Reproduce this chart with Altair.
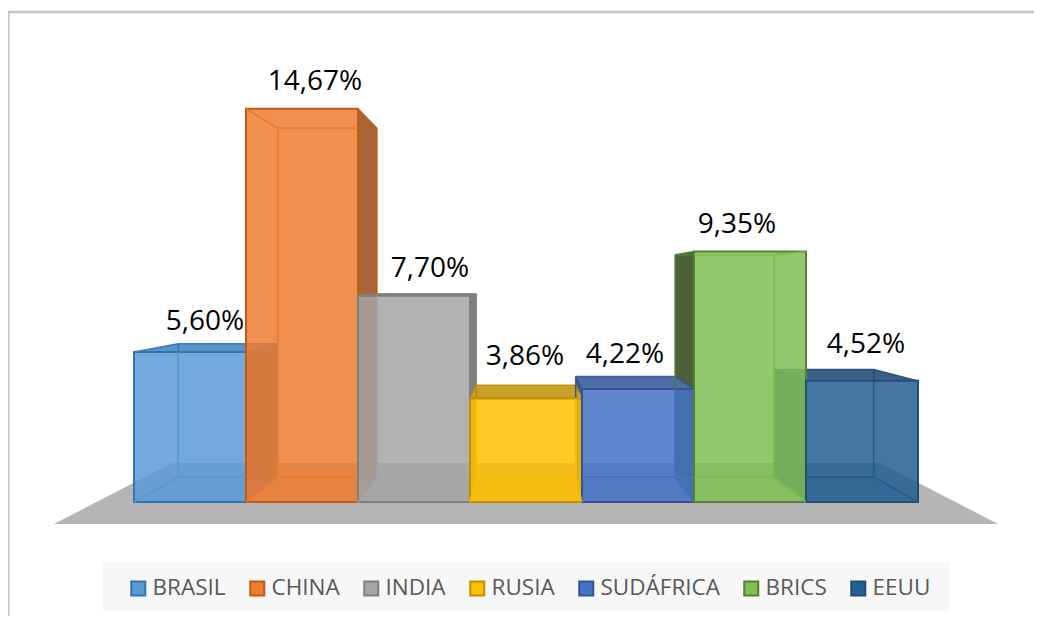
import altair as alt
import pandas as pd

# ---- chart values ----
SERIES = ["BRASIL", "CHINA", "INDIA", "RUSIA", "SUDÁFRICA", "BRICS", "EEUU"]
VALUES = [5.60, 14.67, 7.70, 3.86, 4.22, 9.35, 4.52]
LABELS = ["5,60%", "14,67%", "7,70%", "3,86%", "4,22%", "9,35%", "4,52%"]

# ---- styling ----
FILLS = ["#5b9bd5", "#ed7d31", "#a5a5a5", "#ffc000", "#4472c4", "#80bf55", "#255e91"]
STROKES = ["#2e75b6", "#c55a11", "#7f7f7f", "#bf9000", "#2f5597", "#548235", "#1f4e79"]
DARK_WALL = ["#4f6f95", "#a8653a", "#808080", "#c8a02a", "#3f5a8a", "#4c6138", "#2c4a6a"]
DARK_TOP = ["#5b92c8", "#a8653a", "#808080", "#c8a02a", "#4e6da3", "#4c6138", "#3d5f85"]
LABEL_DX = [15, 13, 16, -1, -13, -13, 4]
LABEL_DY = [30, 27, 27, 42, 34, 26, 36]

W, H = 1026, 608
SLOT = 112.0      # px per bar slot
UNIT = 26.8       # px per percentage point
CX, BASE = 518.0, 494.0  # projection centre x, baseline y, in plot pixels
V0 = 222.0 / UNIT        # height of the vanishing point, in value units
SHRINK = 0.113           # perspective shrink of the rear plane
FLOOR_HALF = 3.835       # half width of the floor, in slots

x_scale = alt.Scale(domain=[-CX / SLOT, (W - CX) / SLOT], nice=False, zero=False)
y_scale = alt.Scale(domain=[(BASE - H) / UNIT, BASE / UNIT], nice=False, zero=False)


def proj(e, v, s):
    return e * s, V0 + (v - V0) * s


def clip(a, b, xmin, xmax, ymin, ymax):
    """Liang-Barsky clipping of segment a-b to a rectangle."""
    t0, t1 = 0.0, 1.0
    dx, dy = b[0] - a[0], b[1] - a[1]
    for p, q in ((-dx, a[0] - xmin), (dx, xmax - a[0]), (-dy, a[1] - ymin), (dy, ymax - a[1])):
        if p == 0:
            if q < 0:
                return None
        else:
            r = q / p
            if p < 0:
                t0 = max(t0, r)
            else:
                t1 = min(t1, r)
    if t0 >= t1:
        return None
    return (a[0] + t0 * dx, a[1] + t0 * dy), (a[0] + t1 * dx, a[1] + t1 * dy)


BACK = 1 - SHRINK
n = len(SERIES)
walls, tops, bottoms, fronts, lines_under, lines_over = [], [], [], [], [], []
for i, (name, val) in enumerate(zip(SERIES, VALUES)):
    le, re = i - n / 2, i + 1 - n / 2
    fl = proj(le, val, 1)
    fr = proj(re, val, 1)
    bl = proj(le, val, BACK)
    br = proj(re, val, BACK)
    fl0 = proj(le, 0, 1)
    bl0 = proj(le, 0, BACK)
    fr0 = proj(re, 0, 1)
    br0 = proj(re, 0, BACK)
    fronts.append(dict(series=name, x=le, x2=re, y=val, y2=0))
    # a wall is shown dark only where it lies outside the front face
    if br[0] > fr[0]:
        walls.append(dict(id=f"w{i}", x=fr[0], y=fr[1], y2=fr0[1], fill=DARK_WALL[i]))
        walls.append(dict(id=f"w{i}", x=br[0], y=br[1], y2=br0[1], fill=DARK_WALL[i]))
    if bl[0] < fl[0]:
        walls.append(dict(id=f"w{i}", x=bl[0], y=bl[1], y2=bl0[1], fill=DARK_WALL[i]))
        walls.append(dict(id=f"w{i}", x=fl[0], y=fl[1], y2=fl0[1], fill=DARK_WALL[i]))
    if bl[1] > fl[1]:
        tops.append(dict(id=f"t{i}", y=bl[1], x=bl[0], x2=br[0], fill=DARK_TOP[i]))
        tops.append(dict(id=f"t{i}", y=fl[1], x=fl[0], x2=fr[0], fill=DARK_TOP[i]))
    bottoms.append(dict(id=f"b{i}", y=bl0[1], x=bl0[0], x2=br0[0], fill=FILLS[i]))
    bottoms.append(dict(id=f"b{i}", y=fl0[1], x=fl0[0], x2=fr0[0], fill=FILLS[i]))
    segments = [
        (bl, br), (bl0, br0), (bl, bl0), (br, br0),
        (fl, bl), (fr, br), (fl0, bl0), (fr0, br0),
    ]
    for k, (a, b) in enumerate(segments):
        lines_under.append(dict(id=f"u{i}{k}", x=a[0], y=a[1], stroke=STROKES[i]))
        lines_under.append(dict(id=f"u{i}{k}", x=b[0], y=b[1], stroke=STROKES[i]))
        c = clip(a, b, le, re, 0, val)
        if c:
            lines_over.append(dict(id=f"o{i}{k}", x=c[0][0], y=c[0][1], stroke=FILLS[i]))
            lines_over.append(dict(id=f"o{i}{k}", x=c[1][0], y=c[1][1], stroke=FILLS[i]))

S_FRONT, S_REAR = 1.099, 0.824
floor_rows = []
for s in (S_REAR, S_FRONT):
    xa, ya = proj(-FLOOR_HALF, 0, s)
    xb, _ = proj(FLOOR_HALF, 0, s)
    floor_rows.append(dict(y=ya, x=xa, x2=xb))

label_rows = [
    dict(
        text=LABELS[i],
        x=i + 0.5 - n / 2 + LABEL_DX[i] / SLOT,
        y=VALUES[i] + LABEL_DY[i] / UNIT,
    )
    for i in range(n)
]

X = alt.X("x:Q", scale=x_scale, axis=None)
Y = alt.Y("y:Q", scale=y_scale, axis=None)
X2 = alt.X2("x2:Q")
Y2 = alt.Y2("y2:Q")

floor = alt.Chart(pd.DataFrame(floor_rows)).mark_area(orient="horizontal", color="#b5b5b5").encode(X, X2, Y)

wall_layer = alt.Chart(pd.DataFrame(walls)).mark_area(orient="vertical").encode(
    X, Y, Y2, fill=alt.Fill("fill:N", scale=None), detail="id:N"
)
top_layer = alt.Chart(pd.DataFrame(tops)).mark_area(orient="horizontal").encode(
    X, X2, Y, fill=alt.Fill("fill:N", scale=None), detail="id:N"
)
bottom_layer = alt.Chart(pd.DataFrame(bottoms)).mark_area(orient="horizontal", fillOpacity=0.22).encode(
    X, X2, Y, fill=alt.Fill("fill:N", scale=None), detail="id:N"
)

legend = alt.Legend(
    title=None,
    orient="none",
    legendX=119,
    legendY=569,
    direction="horizontal",
    columns=7,
    columnPadding=20,
    symbolType="square",
    symbolSize=196,
    symbolStrokeWidth=2,
    symbolOpacity=1,
    labelFont="Open Sans",
    labelFontSize=22.5,
    labelColor="#595959",
    labelOffset=3,
    padding=0,
    zindex=1,
)
front_layer = alt.Chart(pd.DataFrame(fronts)).mark_rect(fillOpacity=0.85, strokeWidth=2).encode(
    X,
    X2,
    Y,
    Y2,
    fill=alt.Fill("series:N", scale=alt.Scale(domain=SERIES, range=FILLS), legend=legend),
    stroke=alt.Stroke("series:N", scale=alt.Scale(domain=SERIES, range=STROKES), legend=legend),
)
under_layer = alt.Chart(pd.DataFrame(lines_under)).mark_line(strokeWidth=1.5, strokeOpacity=0.9).encode(
    X, Y, stroke=alt.Stroke("stroke:N", scale=None), detail="id:N"
)
over_layer = alt.Chart(pd.DataFrame(lines_over)).mark_line(strokeWidth=1.5, strokeOpacity=0.8).encode(
    X, Y, stroke=alt.Stroke("stroke:N", scale=None), detail="id:N"
)
text_layer = alt.Chart(pd.DataFrame(label_rows)).mark_text(
    font="Open Sans", fontSize=28, color="#000000", align="center", baseline="middle"
).encode(X, Y, text="text:N")

legend_bg = alt.Chart(pd.DataFrame({"a": [0]})).mark_rect(color="#f7f7f7").encode(
    x=alt.value(95), x2=alt.value(942), y=alt.value(554), y2=alt.value(603)
)
rule_top = alt.Chart(pd.DataFrame({"a": [0]})).mark_rule(color="#c4c4c4", strokeWidth=2.5).encode(
    x=alt.value(0), x2=alt.value(W), y=alt.value(4)
)
rule_left = alt.Chart(pd.DataFrame({"a": [0]})).mark_rule(color="#c4c4c4", strokeWidth=2).encode(
    x=alt.value(0.5), y=alt.value(3), y2=alt.value(H)
)

chart = (
    alt.layer(
        rule_top, rule_left, legend_bg, floor, wall_layer, top_layer, bottom_layer, under_layer,
        front_layer, over_layer, text_layer,
    )
    .resolve_scale(fill="independent", stroke="independent")
    .properties(width=W, height=H, padding=0, autosize=alt.AutoSizeParams(type="none"), background="#ffffff")
    .configure_view(stroke=None)
)

chart.save("out.html", embed_options={"renderer": "svg", "actions": False})
